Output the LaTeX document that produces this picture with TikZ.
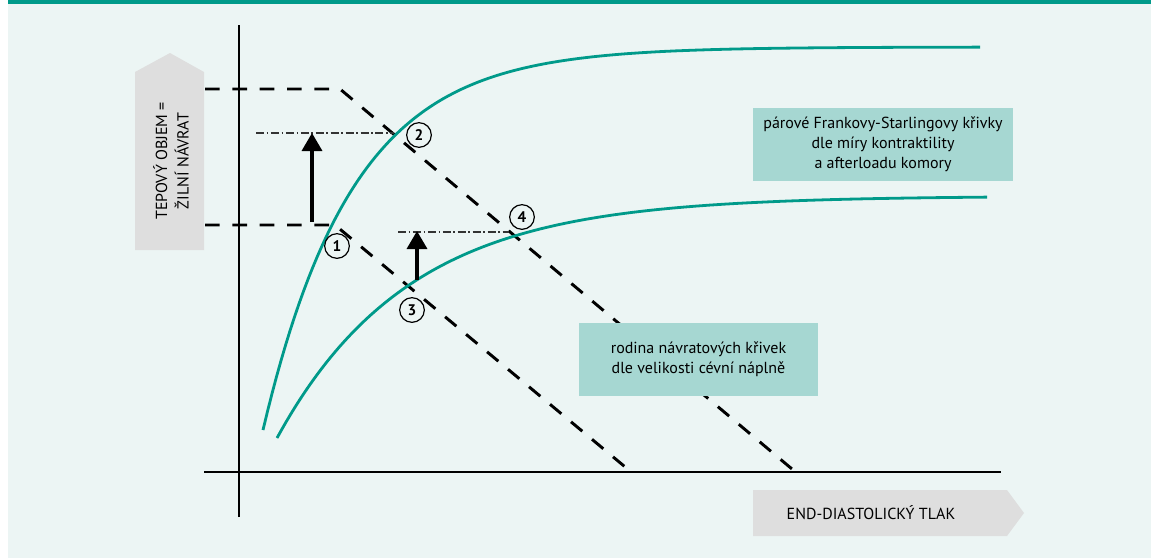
\documentclass[tikz,border=0pt]{standalone}
\usepackage{fontspec}
\setmainfont{PT Sans}
\usetikzlibrary{arrows.meta}
\definecolor{bgc}{HTML}{ECF5F4}
\definecolor{tealc}{HTML}{009A8A}
\definecolor{boxc}{HTML}{A6D7D2}
\definecolor{grayc}{HTML}{DEDEDE}
\definecolor{dkc}{HTML}{333333}
\begin{document}
\begin{tikzpicture}[x=0.75pt,y=-0.75pt,
  curve/.style={draw=tealc,line width=2.1pt},
  axisline/.style={draw=black,line width=1.1pt},
  dashline/.style={draw=black,line width=2.2pt,dash pattern=on 11pt off 9.5pt},
  dotline/.style={draw=dkc,line width=0.8pt,dash pattern=on 6pt off 2pt on 1.2pt off 2pt},
  uparrow/.style={draw=black,line width=2.6pt,-{Triangle[width=15pt,length=13.5pt]}},
  circ/.style={circle,draw=black,line width=0.9pt,minimum size=18.5pt,inner sep=0pt,font=\fontsize{11.5}{12}\selectfont\bfseries},
  tbox/.style={fill=boxc,align=center,inner sep=0pt,minimum height=54.75pt,font=\fontsize{12}{15}\selectfont},
  lbl/.style={align=center,font=\fontsize{12}{16}\selectfont}]
\useasboundingbox (0,0) rectangle (1153,558);
% background
\fill[bgc] (8,3) rectangle (1151,558);
\fill[tealc] (8,0) rectangle (1151,3.5);
% axis labels
\fill[grayc] (135,250) -- (135,72) -- (170,53) -- (204,72) -- (204,250) -- cycle;
\node[lbl,rotate=90] (ylab) at (171,161) {TEPOVÝ OBJEM =\\ŽILNÍ NÁVRAT};
\fill[grayc] (753,490) -- (1007,490) -- (1024,513) -- (1007,536) -- (753,536) -- cycle;
\node[lbl] (xlab) at (871,513) {END-DIASTOLICKÝ TLAK};
% axes
\coordinate (yb) at (239,517);
\coordinate (yt) at (239,25);
\coordinate (xl) at (204,472);
\coordinate (xr) at (1001,472);
\draw[axisline] (yb) -- (yt);
\draw[axisline] (xl) -- (xr);
% dashed return lines
\coordinate (ua) at (205,89);
\coordinate (ub) at (340,89);
\coordinate (uc) at (792,469);
\coordinate (la) at (205,225);
\coordinate (lb) at (335,225);
\coordinate (lc) at (630,471);
\draw[dashline] (ua) -- (ub) -- (uc);
\draw[dashline] (la) -- (lb) -- (lc);
% text boxes (on top of the dashed lines)
\node[tbox,minimum width=195pt] (fs) at (883,144.5) {párové Frankovy-Starlingovy křivky\\dle míry kontraktility\\a afterloadu komory};
\node[tbox,minimum width=179.25pt] (nv) at (698.5,359.5) {rodina návratových křivek\\dle velikosti cévní náplně};
% Frank-Starling curves
\draw[curve] plot[domain=263:980,samples=160] (\x,{47+383*exp(-(\x-263)/90)});
\draw[curve] plot[domain=277:987,samples=160] (\x,{196+242*exp(-(\x-277)/132)});
% dash-dot levels
\coordinate (d1a) at (256,133);
\coordinate (d1b) at (394,133);
\coordinate (d2a) at (398,232);
\coordinate (d2b) at (509,232);
\draw[dotline] (d1a) -- (d1b);
\draw[dotline] (d2a) -- (d2b);
% arrows
\coordinate (a1s) at (312,222);
\coordinate (a1e) at (312,133);
\coordinate (a2s) at (417,280);
\coordinate (a2e) at (417,231);
\draw[uparrow] (a1s) -- (a1e);
\draw[uparrow] (a2s) -- (a2e);
% numbered points
\node[circ] (c1) at (337,246) {1};
\node[circ] (c2) at (419,135) {2};
\node[circ] (c3) at (412,310) {3};
\node[circ] (c4) at (522,217) {4};
\end{tikzpicture}
\end{document}
